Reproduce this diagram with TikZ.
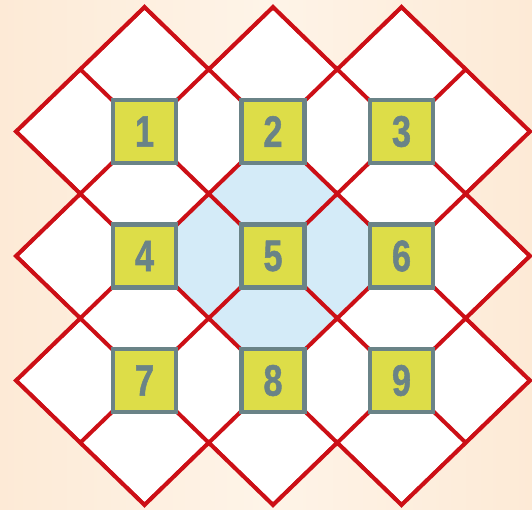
\documentclass[tikz,border=0pt]{standalone}
\usepackage{fontspec}
\setmainfont{Liberation Sans}
\newfontfamily\heavydigits[FakeBold=1.3]{Liberation Sans Bold}
\definecolor{bgA}{HTML}{FDEAD6}
\definecolor{bgB}{HTML}{FEF4E8}
\definecolor{redl}{HTML}{CC0F16}
\definecolor{boxfill}{HTML}{DDDD48}
\definecolor{boxline}{HTML}{6A8387}
\definecolor{bluefive}{HTML}{D4EBF8}
\newcommand\numtxt[1]{\scalebox{0.78}[1]{#1}}
\tikzset{
  numbox/.style={draw=boxline, line width=4.5pt, fill=boxfill, minimum size=63pt,
    inner sep=0pt, text=boxline, font=\heavydigits\fontsize{44}{44}\selectfont},
  redline/.style={draw=redl, line width=4pt},
}
\begin{document}
\begin{tikzpicture}[x=1pt,y=1pt]
\useasboundingbox (0,0) rectangle (532,-509);
\shade[left color=bgA, right color=bgA, middle color=bgB] (0,0) rectangle (532,-509);
\begin{scope}[shift={(16,-7)}, x=128.5pt, y=-124.5pt]
  \def\outline{(0,1) -- (1,0) -- (1.5,0.5) -- (2,0) -- (2.5,0.5) -- (3,0) -- (4,1) -- (3.5,1.5) -- (4,2) -- (3.5,2.5) -- (4,3) -- (3,4) -- (2.5,3.5) -- (2,4) -- (1.5,3.5) -- (1,4) -- (0,3) -- (0.5,2.5) -- (0,2) -- (0.5,1.5) -- cycle}
  \fill[white] \outline;
  \fill[bluefive] (2,1) -- (3,2) -- (2,3) -- (1,2) -- cycle;
  \begin{scope}
    \clip \outline;
    \foreach \k in {-3,...,3} {
      \draw[redline] (\k-1,-1) -- (\k+5,5);
    }
    \foreach \m in {1,...,7} {
      \draw[redline] (\m+1,-1) -- (\m-5,5);
    }
  \end{scope}
  \draw[redline, line join=miter] \outline;
  \node[numbox] (b1) at (1,1) {\numtxt{1}};
  \node[numbox] (b2) at (2,1) {\numtxt{2}};
  \node[numbox] (b3) at (3,1) {\numtxt{3}};
  \node[numbox] (b4) at (1,2) {\numtxt{4}};
  \node[numbox] (b5) at (2,2) {\numtxt{5}};
  \node[numbox] (b6) at (3,2) {\numtxt{6}};
  \node[numbox] (b7) at (1,3) {\numtxt{7}};
  \node[numbox] (b8) at (2,3) {\numtxt{8}};
  \node[numbox] (b9) at (3,3) {\numtxt{9}};
\end{scope}
\end{tikzpicture}
\end{document}
